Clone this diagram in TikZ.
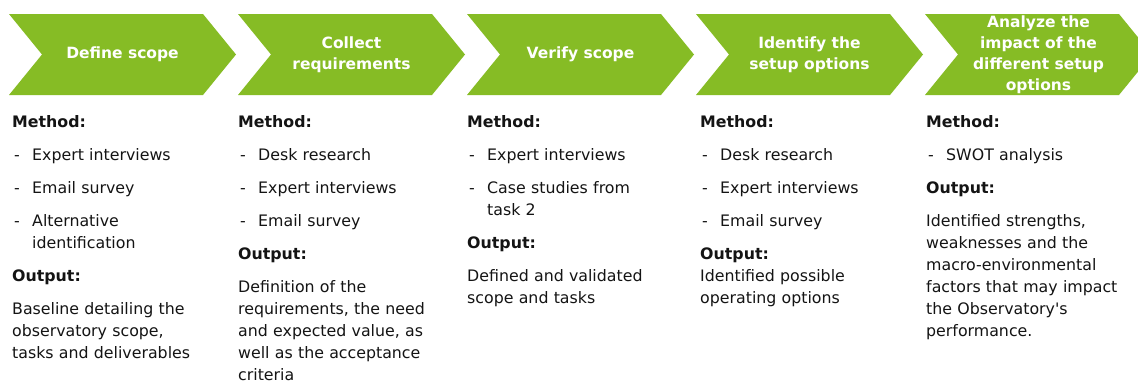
\documentclass[tikz,border=0pt]{standalone}
\usepackage{fontspec}
\setmainfont{DejaVu Sans}
\definecolor{cus-green}{RGB}{134,188,37}
\definecolor{cus-text}{RGB}{20,20,20}

% one green arrow of the process row
\newcommand{\chevron}[3]{
	\fill [cus-green] (#1,14) -- ++(194,0) -- ++(33,40.5) -- ++(-33,40.5) -- ++(-194,0) -- ++(33,-40.5) -- cycle;
	\node [phasetext] (#2) at (#1+113.5,54.5) {#3};
}
\newcommand{\hd}[1]{\par\vspace{11pt}\noindent\textbf{#1}}
\newcommand{\itm}[1]{\par\vspace{11pt}\hangindent=20pt\hangafter=1\noindent\makebox[20pt][l]{\hspace{2pt}-}#1}
\newcommand{\outp}[1]{\par\vspace{11pt}\noindent #1}

\tikzset{
	phasetext/.style={text=white, font=\fontsize{15.5}{21}\selectfont\bfseries, align=center, inner sep=0pt},
	coltext/.style={anchor=north west, inner sep=0pt, text width=215pt, text=cus-text,
		font=\fontsize{15.8}{22}\selectfont, align=left}
}

\begin{document}
\begin{tikzpicture}[x=1pt,y=-1pt]
\clip (0,0) rectangle (1138,381);
\fill [white] (0,0) rectangle (1138,381);

\foreach \x/\n/\t in {9/phase1/{Define scope}, 238/phase2/{Collect\\requirements},
	467/phase3/{Verify scope}, 696/phase4/{Identify the\\setup options},
	925/phase5/{Analyze the\\impact of the\\different setup\\options}}{
	\chevron{\x}{\n}{\t}
}

\node [coltext] (task1) at (12,115) {\noindent\textbf{Method:}
	\itm{Expert interviews}
	\itm{Email survey}
	\itm{Alternative\newline identification}
	\hd{Output:}
	\outp{Baseline detailing the\\observatory scope,\\tasks and deliverables}};

\node [coltext] (task2) at (238,115) {\noindent\textbf{Method:}
	\itm{Desk research}
	\itm{Expert interviews}
	\itm{Email survey}
	\hd{Output:}
	\outp{Definition of the\\requirements, the need\\and expected value, as\\well as the acceptance\\criteria}};

\node [coltext] (task3) at (467,115) {\noindent\textbf{Method:}
	\itm{Expert interviews}
	\itm{Case studies from\newline task 2}
	\hd{Output:}
	\outp{Defined and validated\\scope and tasks}};

\node [coltext] (task4) at (700,115) {\noindent\textbf{Method:}
	\itm{Desk research}
	\itm{Expert interviews}
	\itm{Email survey}
	\hd{Output:}
	\par\noindent Identified possible\\operating options};

\node [coltext] (task5) at (926,115) {\noindent\textbf{Method:}
	\itm{SWOT analysis}
	\hd{Output:}
	\outp{Identified strengths,\\weaknesses and the\\macro-environmental\\factors that may impact\\the Observatory\textquotesingle s\\performance.}};
\end{tikzpicture}
\end{document}
